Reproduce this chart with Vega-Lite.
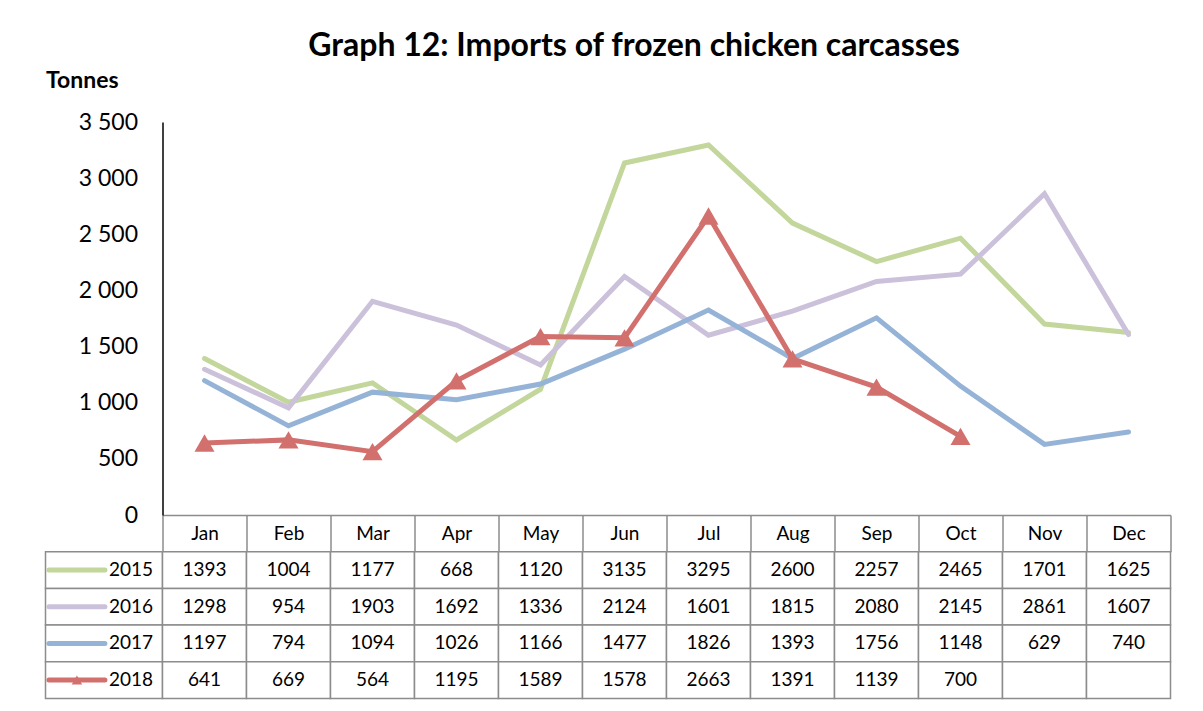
{
  "$schema": "https://vega.github.io/schema/vega-lite/v6.json",
  "background": "white",
  "padding": {"left": 38.5, "top": 30, "right": 0, "bottom": 0},
  "autosize": {"type": "pad"},
  "title": {"text": "Graph 12: Imports of frozen chicken carcasses", "font": "Lato", "fontSize": 32, "fontWeight": "bold", "color": "black", "anchor": "middle", "dx": 29, "offset": 6},
  "config": {"view": {"stroke": null}, "font": "Lato"},
  "datasets": {
    "imports": [
      {"month": "Jan", "year": "2015", "tonnes": 1393},
      {"month": "Feb", "year": "2015", "tonnes": 1004},
      {"month": "Mar", "year": "2015", "tonnes": 1177},
      {"month": "Apr", "year": "2015", "tonnes": 668},
      {"month": "May", "year": "2015", "tonnes": 1120},
      {"month": "Jun", "year": "2015", "tonnes": 3135},
      {"month": "Jul", "year": "2015", "tonnes": 3295},
      {"month": "Aug", "year": "2015", "tonnes": 2600},
      {"month": "Sep", "year": "2015", "tonnes": 2257},
      {"month": "Oct", "year": "2015", "tonnes": 2465},
      {"month": "Nov", "year": "2015", "tonnes": 1701},
      {"month": "Dec", "year": "2015", "tonnes": 1625},
      {"month": "Jan", "year": "2016", "tonnes": 1298},
      {"month": "Feb", "year": "2016", "tonnes": 954},
      {"month": "Mar", "year": "2016", "tonnes": 1903},
      {"month": "Apr", "year": "2016", "tonnes": 1692},
      {"month": "May", "year": "2016", "tonnes": 1336},
      {"month": "Jun", "year": "2016", "tonnes": 2124},
      {"month": "Jul", "year": "2016", "tonnes": 1601},
      {"month": "Aug", "year": "2016", "tonnes": 1815},
      {"month": "Sep", "year": "2016", "tonnes": 2080},
      {"month": "Oct", "year": "2016", "tonnes": 2145},
      {"month": "Nov", "year": "2016", "tonnes": 2861},
      {"month": "Dec", "year": "2016", "tonnes": 1607},
      {"month": "Jan", "year": "2017", "tonnes": 1197},
      {"month": "Feb", "year": "2017", "tonnes": 794},
      {"month": "Mar", "year": "2017", "tonnes": 1094},
      {"month": "Apr", "year": "2017", "tonnes": 1026},
      {"month": "May", "year": "2017", "tonnes": 1166},
      {"month": "Jun", "year": "2017", "tonnes": 1477},
      {"month": "Jul", "year": "2017", "tonnes": 1826},
      {"month": "Aug", "year": "2017", "tonnes": 1393},
      {"month": "Sep", "year": "2017", "tonnes": 1756},
      {"month": "Oct", "year": "2017", "tonnes": 1148},
      {"month": "Nov", "year": "2017", "tonnes": 629},
      {"month": "Dec", "year": "2017", "tonnes": 740},
      {"month": "Jan", "year": "2018", "tonnes": 641},
      {"month": "Feb", "year": "2018", "tonnes": 669},
      {"month": "Mar", "year": "2018", "tonnes": 564},
      {"month": "Apr", "year": "2018", "tonnes": 1195},
      {"month": "May", "year": "2018", "tonnes": 1589},
      {"month": "Jun", "year": "2018", "tonnes": 1578},
      {"month": "Jul", "year": "2018", "tonnes": 2663},
      {"month": "Aug", "year": "2018", "tonnes": 1391},
      {"month": "Sep", "year": "2018", "tonnes": 1139},
      {"month": "Oct", "year": "2018", "tonnes": 700},
      {"month": "Nov", "year": "2018", "tonnes": null},
      {"month": "Dec", "year": "2018", "tonnes": null}
    ]
  },
  "data": {"name": "imports"},
  "columns": 2,
  "bounds": "flush",
  "spacing": {"row": 36.7, "column": 0},
  "resolve": {"scale": {"x": "independent", "y": "independent", "color": "shared"}},
  "concat": [
    {
      "width": 117,
      "height": 393,
      "data": {"values": []},
      "mark": "point",
      "encoding": {}
    },
    {
      "width": 1008,
      "height": 393,
      "layer": [
        {
          "mark": {"type": "line", "strokeWidth": 5, "strokeCap": "round"},
          "encoding": {
            "x": {"field": "month", "type": "ordinal", "sort": null, "bandPosition": 0.5,
              "scale": {"type": "band", "domain": ["Jan","Feb","Mar","Apr","May","Jun","Jul","Aug","Sep","Oct","Nov","Dec"], "paddingInner": 0, "paddingOuter": 0},
              "axis": {"title": null, "orient": "bottom", "labelAngle": 0, "domainColor": "#8c8c8c", "domainWidth": 1.5, "tickBand": "extent", "tickSize": 36.7, "tickColor": "#8c8c8c", "tickWidth": 1.5, "labelBaseline": "middle", "labelPadding": -18.35, "labelFontSize": 19, "labelColor": "black", "grid": false}},
            "y": {"field": "tonnes", "type": "quantitative",
              "scale": {"domain": [0, 3500], "nice": false},
              "axis": {"title": "Tonnes", "titleAngle": 0, "titleAlign": "left", "titleBaseline": "alphabetic", "titleX": -117, "titleY": -35, "titleFontSize": 23, "titleFontWeight": "bold", "titleColor": "black",
                "values": [0, 500, 1000, 1500, 2000, 2500, 3000, 3500], "labelExpr": "replace(format(datum.value, ','), ',', ' ')", "ticks": false, "labelPadding": 25, "labelFontSize": 23, "labelColor": "black", "domainColor": "black", "domainWidth": 1.5, "grid": false}},
            "color": {"field": "year", "type": "nominal", "scale": {"domain": ["2015","2016","2017","2018"], "range": ["#c3d69b","#ccc1da","#95b3d7","#d2706e"]}, "legend": null}
          }
        },
        {
          "transform": [{"filter": "datum.year == '2018'"}],
          "mark": {"type": "point", "shape": "triangle-up", "filled": true, "size": 400, "opacity": 1},
          "encoding": {
            "x": {"field": "month", "type": "ordinal", "sort": null, "bandPosition": 0.5},
            "y": {"field": "tonnes", "type": "quantitative"},
            "color": {"field": "year", "type": "nominal", "legend": null}
          }
        }
      ]
    },
    {
      "width": 117,
      "height": 146.7,
      "transform": [{"filter": "datum.month == 'Jan'"}],
      "layer": [
        {
          "mark": {"type": "rect", "fill": "white", "stroke": "#8c8c8c", "strokeWidth": 1.5},
          "encoding": {
            "y": {"field": "year", "type": "nominal", "scale": {"domain": ["2015","2016","2017","2018"], "paddingInner": 0, "paddingOuter": 0}, "axis": null}
          }
        },
        {
          "mark": {"type": "point", "shape": "stroke", "size": 3136, "strokeWidth": 5, "strokeCap": "round", "opacity": 1},
          "encoding": {
            "x": {"datum": "symbol", "type": "nominal", "scale": {"type": "band", "domain": ["symbol", "label"], "paddingInner": 0, "paddingOuter": 0.08}, "axis": null},
            "y": {"field": "year", "type": "nominal", "axis": null},
            "color": {"field": "year", "type": "nominal", "legend": null}
          }
        },
        {
          "transform": [{"filter": "datum.year == '2018'"}],
          "mark": {"type": "point", "shape": "triangle-up", "filled": true, "size": 110, "opacity": 1},
          "encoding": {
            "x": {"datum": "symbol", "type": "nominal"},
            "y": {"field": "year", "type": "nominal", "axis": null},
            "color": {"field": "year", "type": "nominal", "legend": null}
          }
        },
        {
          "mark": {"type": "text", "fontSize": 19, "color": "black"},
          "encoding": {
            "x": {"datum": "label", "type": "nominal"},
            "y": {"field": "year", "type": "nominal", "axis": null},
            "text": {"field": "year", "type": "nominal"}
          }
        }
      ]
    },
    {
      "width": 1008,
      "height": 146.7,
      "layer": [
        {
          "mark": {"type": "rect", "fill": "white", "stroke": "#8c8c8c", "strokeWidth": 1.5},
          "encoding": {
            "x": {"field": "month", "type": "ordinal", "sort": null, "scale": {"type": "band", "domain": ["Jan","Feb","Mar","Apr","May","Jun","Jul","Aug","Sep","Oct","Nov","Dec"], "paddingInner": 0, "paddingOuter": 0}, "axis": null},
            "y": {"field": "year", "type": "nominal", "scale": {"domain": ["2015","2016","2017","2018"], "paddingInner": 0, "paddingOuter": 0}, "axis": null}
          }
        },
        {
          "transform": [{"filter": "isValid(datum.tonnes)"}],
          "mark": {"type": "text", "fontSize": 19, "color": "black"},
          "encoding": {
            "x": {"field": "month", "type": "ordinal", "sort": null},
            "y": {"field": "year", "type": "nominal"},
            "text": {"field": "tonnes", "type": "quantitative", "format": "d"}
          }
        }
      ]
    }
  ]
}
